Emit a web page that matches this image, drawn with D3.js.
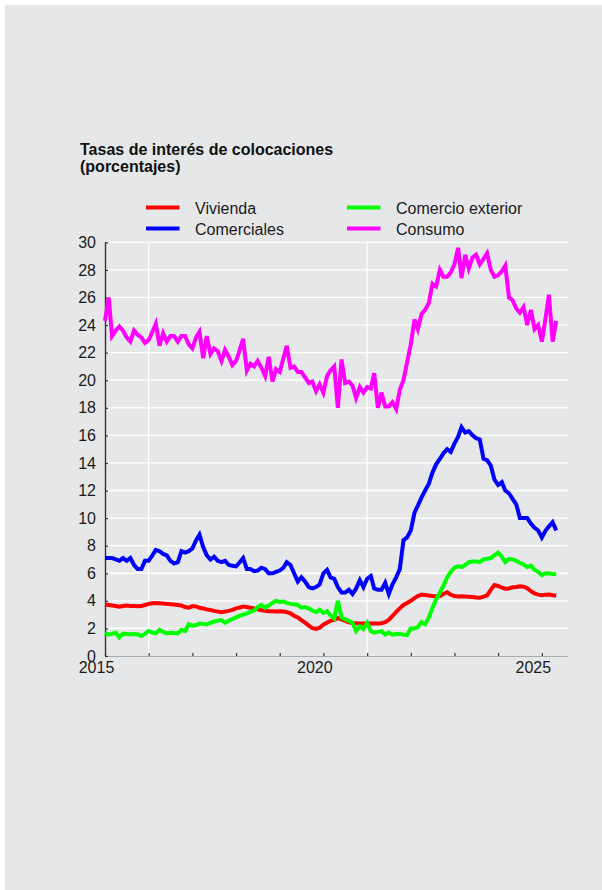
<!DOCTYPE html>
<html>
<head>
<meta charset="utf-8">
<script src="https://cdn.jsdelivr.net/npm/d3@7"></script>
<style>
  html, body { margin: 0; padding: 0; background: #ffffff; }
  svg { display: block; font-family: "Liberation Sans", Arial, Helvetica, sans-serif; }
</style>
</head>
<body>
<svg id="chart" width="602" height="890"></svg>
<script>
// ---- Data (monthly, from January 2015) ----
const startYear = 2015;
const seriesNames = ["Vivienda", "Comerciales", "Comercio exterior", "Consumo"];
const seriesColors = ["#ff0000", "#0000ff", "#00ff00", "#ff00ff"];

const vivienda = [
  3.73,3.70,3.66,3.62,3.57,3.62,3.66,3.63,3.62,3.60,3.62,3.70,
  3.78,3.82,3.85,3.83,3.80,3.78,3.76,3.73,3.70,3.66,3.55,3.50,
  3.62,3.60,3.50,3.45,3.38,3.33,3.27,3.22,3.18,3.22,3.27,3.35,
  3.45,3.52,3.58,3.55,3.50,3.45,3.38,3.32,3.28,3.25,3.25,3.22,
  3.25,3.22,3.18,3.10,2.92,2.80,2.60,2.42,2.20,2.02,1.97,2.05,
  2.28,2.42,2.55,2.62,2.75,2.65,2.55,2.45,2.40,2.38,2.36,2.36,
  2.36,2.36,2.36,2.36,2.38,2.45,2.62,2.90,3.20,3.45,3.70,3.85,
  4.00,4.20,4.35,4.45,4.42,4.38,4.35,4.34,4.35,4.50,4.62,4.45,
  4.35,4.32,4.34,4.32,4.30,4.28,4.24,4.22,4.30,4.40,4.80,5.15,
  5.08,4.95,4.88,4.90,4.98,5.00,5.05,5.03,4.92,4.70,4.53,4.45,
  4.40,4.45,4.46,4.40,4.38
];
const comerciales = [
  7.1,7.1,7.1,7.0,6.9,7.1,6.9,7.1,6.6,6.3,6.3,6.9,
  6.9,7.3,7.7,7.6,7.4,7.3,6.9,6.7,6.8,7.6,7.5,7.6,
  7.8,8.4,8.8,7.9,7.3,7.0,7.2,6.9,6.8,6.9,6.6,6.55,
  6.5,6.8,7.1,6.3,6.3,6.15,6.2,6.4,6.3,6.0,6.0,6.1,
  6.2,6.4,6.8,6.6,6.0,5.4,5.7,5.4,5.0,4.9,5.0,5.2,
  6.0,6.25,5.7,5.6,5.0,4.6,4.6,4.8,4.5,4.9,5.5,5.0,
  5.6,5.8,4.9,4.8,4.8,5.3,4.5,5.2,5.7,6.3,8.4,8.6,
  9.1,10.4,10.9,11.5,12.0,12.5,13.3,13.9,14.3,14.7,15.0,14.8,
  15.4,15.9,16.6,16.2,16.3,16.0,15.8,15.7,14.3,14.2,13.8,12.8,
  12.4,12.6,12.0,11.8,11.4,11.0,10.0,10.0,10.0,9.6,9.3,9.1,
  8.6,9.1,9.4,9.7,9.1
];
const comercioExterior = [
  1.69,1.55,1.60,1.69,1.35,1.62,1.60,1.57,1.57,1.57,1.45,1.60,
  1.81,1.70,1.64,1.90,1.75,1.64,1.69,1.66,1.64,1.90,1.81,2.30,
  2.20,2.25,2.36,2.33,2.29,2.40,2.50,2.55,2.60,2.41,2.55,2.68,
  2.80,2.92,3.00,3.10,3.20,3.30,3.55,3.70,3.50,3.66,3.85,4.00,
  3.92,3.95,3.85,3.78,3.75,3.70,3.50,3.55,3.45,3.30,3.18,3.35,
  3.13,3.25,2.95,2.72,4.00,2.80,2.65,2.55,2.40,1.80,2.15,1.95,
  2.40,1.80,1.70,1.75,1.80,1.55,1.70,1.55,1.60,1.60,1.55,1.50,
  2.00,2.00,2.10,2.45,2.30,2.80,3.50,4.10,4.60,5.10,5.70,6.10,
  6.40,6.50,6.45,6.60,6.80,6.85,6.85,6.80,7.00,7.05,7.10,7.30,
  7.50,7.20,6.80,7.05,7.00,6.90,6.75,6.65,6.45,6.55,6.25,6.10,
  5.85,6.00,5.98,5.95,5.93
];
const consumo = [
  24.3,26.0,23.2,23.6,23.9,23.6,23.1,22.8,23.6,23.3,23.1,22.7,
  22.9,23.5,24.1,22.5,23.4,22.8,23.2,23.2,22.8,23.2,23.2,22.6,
  22.3,23.1,23.5,21.6,23.2,21.9,22.3,22.1,21.4,22.2,21.7,21.1,
  21.4,22.2,23.0,20.7,21.2,21.0,21.4,20.9,20.3,21.7,19.9,20.8,
  20.6,21.6,22.5,20.9,21.0,20.6,20.6,20.2,19.8,19.9,19.2,19.7,
  19.1,20.3,20.7,21.0,18.0,21.5,19.8,19.9,19.6,18.7,19.5,19.1,
  19.5,19.4,20.5,18.0,19.1,18.1,18.1,18.4,17.9,19.3,20.0,21.3,
  22.6,24.4,23.7,24.8,25.1,25.6,27.0,26.8,28.0,27.5,27.5,27.8,
  28.4,29.6,27.4,29.1,28.1,28.9,29.1,28.4,28.8,29.2,28.0,27.5,
  27.6,27.9,28.3,26.0,25.8,25.2,24.9,25.3,24.0,25.1,23.7,24.0,
  22.8,24.5,26.2,22.8,24.3
];
const yTicks = [0,2,4,6,8,10,12,14,16,18,20,22,24,26,28,30];
const xTickYears = [2015,2016,2017,2018,2019,2020,2021,2022,2023,2024,2025];
const xLabelYears = [2015, 2020, 2025];
const xGridYears = [2016, 2021];
const titleLines = ["Tasas de interés de colocaciones", "(porcentajes)"];

const allSeries = [vivienda, comerciales, comercioExterior, consumo];

// ---- Layout ----
const svg = d3.select("#chart");
const bg = "#e6e7e9";
svg.append("rect").attr("x", 5).attr("y", 5).attr("width", 597).attr("height", 885).attr("fill", bg);

const plotL = 105, plotR = 567.7, plotT = 242.3, plotB = 656;
const x = d3.scaleTime()
  .domain([new Date(startYear, 0, 1), new Date(2025, 7, 5)])
  .range([plotL, plotR]);
const y = d3.scaleLinear().domain([0, 30]).range([plotB, plotT]);

// Title
const title = svg.append("text").attr("x", 80).attr("y", 155)
  .attr("font-size", 16).attr("font-weight", "bold").attr("fill", "#111");
titleLines.forEach((t, i) => {
  title.append("tspan").attr("x", 80).attr("dy", i === 0 ? 0 : 16.5).text(t);
});

// Legend
const legendPos = [[146, 207.5], [146, 228.5], [347, 207.5], [347, 228.5]];
seriesNames.forEach((name, i) => {
  const [lx, ly] = legendPos[i];
  svg.append("line").attr("x1", lx).attr("x2", lx + 33.5).attr("y1", ly).attr("y2", ly)
    .attr("stroke", seriesColors[i]).attr("stroke-width", 4);
  svg.append("text").attr("x", lx + 49).attr("y", ly + 6).attr("font-size", 16)
    .attr("fill", "#1a1a1a").text(name);
});

// Gridlines
const g = svg.append("g");
g.selectAll("line.hgrid").data(yTicks.filter(d => d > 0)).join("line")
  .attr("class", "hgrid")
  .attr("x1", plotL).attr("x2", plotR)
  .attr("y1", d => y(d)).attr("y2", d => y(d))
  .attr("stroke", "#ffffff").attr("stroke-width", 1.3);
g.selectAll("line.vgrid").data(xGridYears).join("line")
  .attr("class", "vgrid")
  .attr("x1", d => x(new Date(d, 0, 1))).attr("x2", d => x(new Date(d, 0, 1)))
  .attr("y1", plotT).attr("y2", plotB)
  .attr("stroke", "#ffffff").attr("stroke-width", 1.3);

// X axis
const xAxis = d3.axisBottom(x)
  .tickValues(xTickYears.map(yv => new Date(yv, 0, 1)))
  .tickSize(-3)
  .tickFormat(d => xLabelYears.includes(d.getFullYear()) ? d.getFullYear() : "");
const gx = svg.append("g").attr("transform", `translate(0,${plotB})`).call(xAxis);
gx.select(".domain").attr("stroke", "#a8a9ab").attr("stroke-width", 1.2)
  .attr("d", `M${plotL},0.5H${plotR}`);
gx.selectAll(".tick line").attr("stroke", "#333").attr("stroke-width", 1.2);
gx.selectAll(".tick text").attr("font-size", 16).attr("fill", "#1a1a1a")
  .attr("font-family", "Liberation Sans, Arial, sans-serif")
  .attr("dx", -9).attr("y", 6).attr("dy", "0.71em");

// Y axis
const yAxis = d3.axisLeft(y).tickValues(yTicks).tickSize(-3).tickPadding(9);
const gy = svg.append("g").attr("transform", `translate(${plotL},0)`).call(yAxis);
gy.select(".domain").attr("stroke", "#333").attr("stroke-width", 1.4)
  .attr("d", `M0.5,${plotT}V${plotB}`);
gy.selectAll(".tick line").attr("stroke", "#333").attr("stroke-width", 1.2);
gy.selectAll(".tick text").attr("font-size", 16).attr("fill", "#1a1a1a")
  .attr("font-family", "Liberation Sans, Arial, sans-serif");

// Lines
const line = d3.line()
  .x((d, i) => x(new Date(startYear, i, 1)))
  .y(d => y(d));
allSeries.forEach((s, i) => {
  svg.append("path").datum(s)
    .attr("fill", "none")
    .attr("stroke", seriesColors[i])
    .attr("stroke-width", 4)
    .attr("stroke-linejoin", "miter")
    .attr("stroke-miterlimit", 4)
    .attr("d", line);
});
</script>
</body>
</html>
